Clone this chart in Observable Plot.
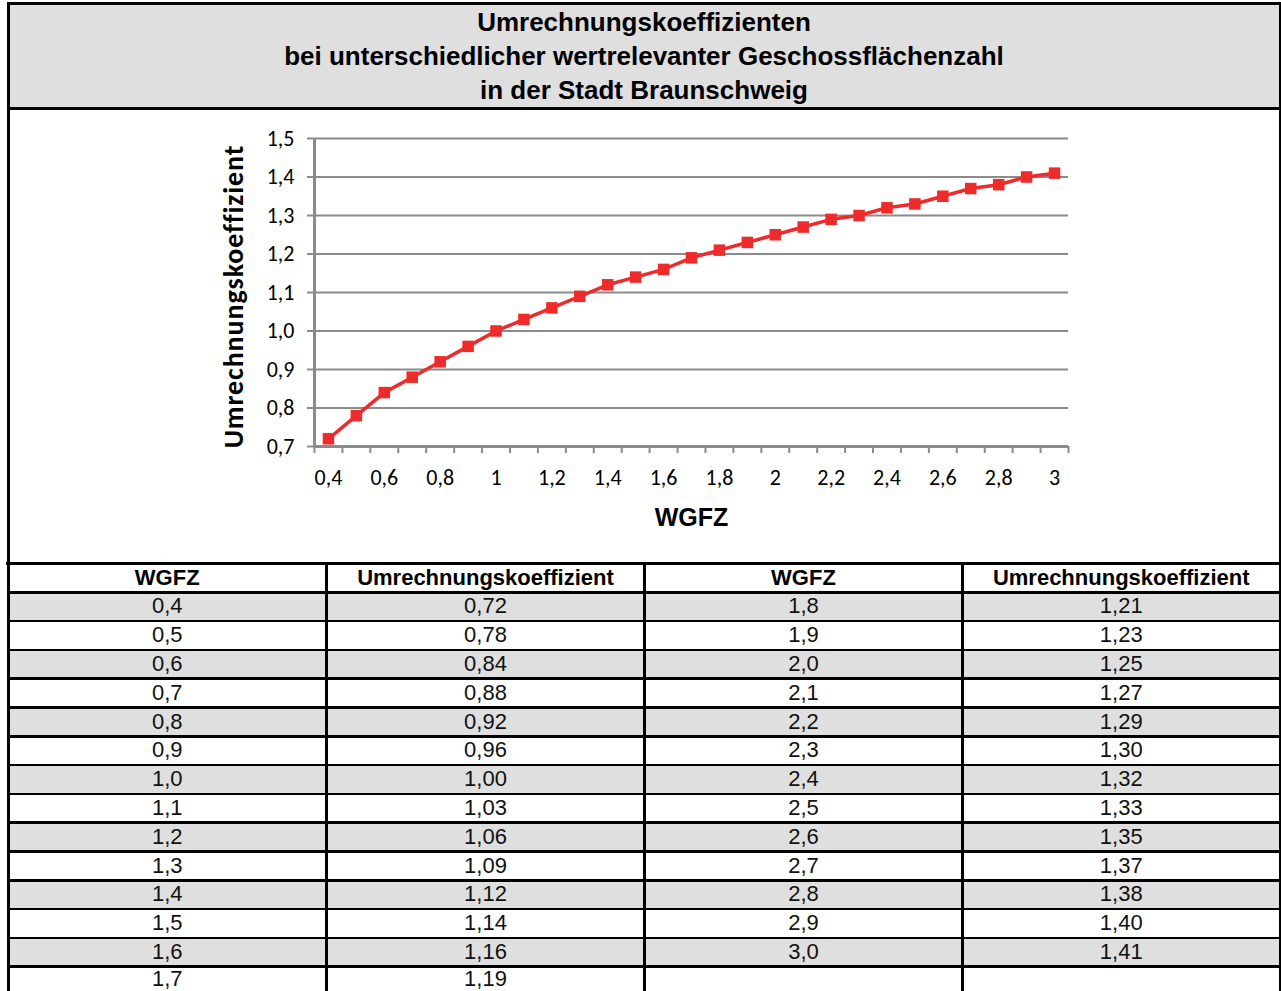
<!DOCTYPE html>
<html><head><meta charset="utf-8">
<script src="https://cdn.jsdelivr.net/npm/d3@7"></script>
<script src="https://cdn.jsdelivr.net/npm/@observablehq/plot@0.6"></script>
<style>
body{margin:0;background:#fff;}
#page{position:relative;width:1281px;height:991px;overflow:hidden;font-family:"Liberation Sans",Arial,sans-serif;color:#000;background:#fff;}
.box{position:absolute;}
.title{position:absolute;left:9px;width:1270px;text-align:center;font-weight:bold;font-size:26px;line-height:34px;white-space:nowrap;}
.cell{position:absolute;text-align:center;font-size:22px;white-space:nowrap;color:#111;}
#chart{position:absolute;left:0;top:110px;}
</style></head><body><div id="page"></div>
<script>
// ---- data ----
const titleLines = [
  "Umrechnungskoeffizienten",
  "bei unterschiedlicher wertrelevanter Geschossflächenzahl",
  "in der Stadt Braunschweig"
];
const yAxisTitle = "Umrechnungskoeffizient";
const xAxisTitle = "WGFZ";
const wgfz = [0.4,0.5,0.6,0.7,0.8,0.9,1.0,1.1,1.2,1.3,1.4,1.5,1.6,1.7,1.8,1.9,2.0,2.1,2.2,2.3,2.4,2.5,2.6,2.7,2.8,2.9,3.0];
const koeff = [0.72,0.78,0.84,0.88,0.92,0.96,1.00,1.03,1.06,1.09,1.12,1.14,1.16,1.19,1.21,1.23,1.25,1.27,1.29,1.30,1.32,1.33,1.35,1.37,1.38,1.40,1.41];
const xTickLabels = [0.4,0.6,0.8,1.0,1.2,1.4,1.6,1.8,2.0,2.2,2.4,2.6,2.8,3.0];
const yTickLabels = [0.7,0.8,0.9,1.0,1.1,1.2,1.3,1.4,1.5];
const tableHeaders = ["WGFZ","Umrechnungskoeffizient","WGFZ","Umrechnungskoeffizient"];
const rowsPerHalf = 14;

// ---- helpers ----
const page = document.getElementById("page");
const comma = (d, n) => d.toFixed(n).replace(".", ",");
const xFmt = d => String(+d.toFixed(1)).replace(".", ",");
function box(left, top, width, height, bg) {
  const e = document.createElement("div");
  e.className = "box";
  Object.assign(e.style, {left: left + "px", top: top + "px", width: width + "px", height: height + "px", background: bg});
  page.appendChild(e);
  return e;
}
function cell(text, left, top, width, height, bold) {
  const e = document.createElement("div");
  e.className = "cell";
  Object.assign(e.style, {left: left + "px", top: top + "px", width: width + "px", height: height + "px", lineHeight: height + "px", fontWeight: bold ? "bold" : "normal", color: bold ? "#000" : "#111"});
  e.textContent = text;
  page.appendChild(e);
}

const GRAYBG = "#dfdfdf";
// header band
box(8, 4, 1273, 104, GRAYBG);
titleLines.forEach((t, i) => {
  const e = document.createElement("div");
  e.className = "title";
  e.style.top = (5 + i * 34) + "px";
  e.textContent = t;
  page.appendChild(e);
});

// ---- table ----
const colX = [8, 326.5, 644.5, 962.5, 1280];
const lineY = [563.7];
for (let k = 0; k <= 14; k++) lineY.push(592.3 + 28.8 * k);
// row shading
for (let r = 1; r <= rowsPerHalf; r++) {
  if (r % 2 === 1) box(8, lineY[r], 1272, lineY[r + 1] - lineY[r], GRAYBG);
}
// texts
for (let c = 0; c < 4; c++) {
  cell(tableHeaders[c], colX[c], lineY[0], colX[c + 1] - colX[c], lineY[1] - lineY[0], true);
}
for (let r = 0; r < rowsPerHalf; r++) {
  const top = lineY[r + 1];
  const h = Math.min(lineY[r + 2], 990) - top;
  const iL = r, iR = r + rowsPerHalf;
  if (iL < wgfz.length) {
    cell(comma(wgfz[iL], 1), colX[0], top, colX[1] - colX[0], h, false);
    cell(comma(koeff[iL], 2), colX[1], top, colX[2] - colX[1], h, false);
  }
  if (iR < wgfz.length) {
    cell(comma(wgfz[iR], 1), colX[2], top, colX[3] - colX[2], h, false);
    cell(comma(koeff[iR], 2), colX[3], top, colX[4] - colX[3], h, false);
  }
}
// table lines
lineY.forEach((y, i) => { if (y < 991) box(i === 0 ? 6 : 8, y - 1.4, 1275, i === 0 ? 3 : 2.7, "#000"); });
colX.slice(1, 4).forEach(x => box(x - 1.5, 562, 3, 430, "#000"));

// ---- chart ----
const data = wgfz.map((w, i) => ({wgfz: w, k: koeff[i]}));
const step = 0.1;
const xBounds = [...wgfz.map(w => +(w - step / 2).toFixed(2)), +(wgfz[wgfz.length - 1] + step / 2).toFixed(2)];
const axisGray = "#8b8b8b";
const red = "#ee2b2b";
const chart = Plot.plot({
  width: 1281, height: 452,
  marginLeft: 314, marginRight: 213, marginTop: 28, marginBottom: 116,
  style: {fontFamily: "Carlito, 'Open Sans', sans-serif", fontSize: "22px", color: "#000", background: "transparent", overflow: "visible"},
  x: {domain: [xBounds[0], xBounds[xBounds.length - 1]], axis: null},
  y: {domain: [0.7, 1.5], axis: null},
  marks: [
    Plot.gridY(yTickLabels, {stroke: axisGray, strokeOpacity: 1, strokeWidth: 2}),
    Plot.axisY(yTickLabels, {tickSize: 7, tickPadding: 13, stroke: axisGray, strokeWidth: 2, fill: "#000", fontSize: 22, tickFormat: d => comma(d, 1), label: null}),
    Plot.axisX(xBounds, {tickSize: 7, stroke: axisGray, strokeWidth: 2, tickFormat: () => "", label: null}),
    Plot.axisX(xTickLabels, {tickSize: 0, tickPadding: 23, fill: "#000", fontSize: 22, tickFormat: xFmt, label: null}),
    Plot.ruleX([xBounds[0]], {stroke: axisGray, strokeWidth: 3}),
    Plot.ruleY([0.7], {stroke: axisGray, strokeWidth: 3}),
    Plot.line(data, {x: "wgfz", y: "k", stroke: red, strokeWidth: 3.5}),
    Plot.dot(data, {x: "wgfz", y: "k", symbol: "square", r: 6.5, fill: red, stroke: null}),
    Plot.text([yAxisTitle], {frameAnchor: "left", text: d => d, rotate: -90, dx: -80, dy: 4, textAnchor: "middle", lineAnchor: "middle", fontFamily: "Carlito, 'Liberation Sans', sans-serif", fontWeight: "bold", fontSize: 28}),
    Plot.text([xAxisTitle], {frameAnchor: "bottom", text: d => d, dy: 71, lineAnchor: "middle", fontFamily: "'Liberation Sans', Arial, sans-serif", fontWeight: "bold", fontSize: 25})
  ]
});
chart.querySelectorAll("text").forEach(t => {
  if (t.textContent === yAxisTitle) t.style.letterSpacing = "0.9px";
});
chart.id = "chart";
page.appendChild(chart);

// outer borders (on top)
box(6.5, 2, 3, 989, "#000");
box(1279, 2, 3, 989, "#000");
box(6.5, 2, 1275, 3, "#000");
box(6.5, 107, 1275, 3, "#000");
</script></body></html>
